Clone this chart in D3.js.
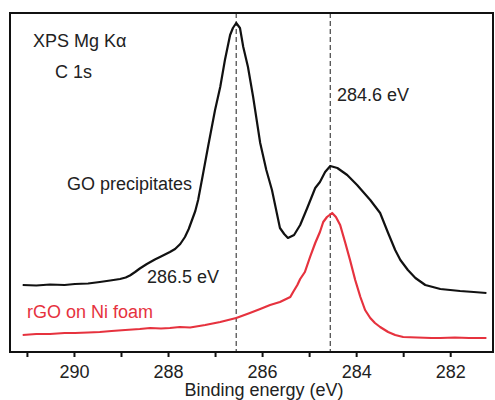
<!DOCTYPE html>
<html>
<head>
<meta charset="utf-8">
<script src="https://cdn.jsdelivr.net/npm/d3@7"></script>
<style>
  body { margin: 0; background: #fff; }
  text { font-family: "Liberation Sans", Arial, sans-serif; }
</style>
</head>
<body>
<div id="svg-area"></div>
<script>
const width = 495;
const height = 400;
const margin = {top: 13, left: 10, bottom: 48, right: 2};

// binding energy (eV) and intensity (a.u.)
const goEnergy = [291.09, 290.8, 290.51, 290.2, 289.98, 289.7, 289.45, 289.23, 289.02, 288.9, 288.81, 288.7, 288.6, 288.45,
  288.28, 288.15, 287.96, 287.85, 287.74, 287.64, 287.56, 287.49, 287.42, 287.36, 287.26, 287.15, 287.0, 286.89, 286.79, 286.68,
  286.62, 286.55, 286.47, 286.4, 286.3, 286.19, 286.04, 285.91, 285.79, 285.62, 285.53, 285.45, 285.32, 285.19,
  285.04, 284.87, 284.77, 284.66, 284.55, 284.4, 284.19, 283.98, 283.7, 283.49, 283.32, 283.17, 283.06, 282.9,
  282.74, 282.53, 282.21, 282.0, 281.79, 281.5, 281.23];
const goIntensity = [67, 66.5, 67.5, 67, 68, 68.5, 70, 71.5, 73, 74.5, 76.5, 80, 83.5, 88,
  92.5, 95.5, 100, 103, 108, 115, 123, 132, 141, 152, 177, 205, 242, 265, 292, 317,
  324, 329, 324, 305, 285, 255, 209, 182, 162, 124, 118, 114, 117, 127,
  144, 164, 170, 180, 186, 184, 177, 167, 152, 139, 119, 102, 92, 82,
  74, 67, 63, 62, 61, 60, 59];

const rgoEnergy = [291.09, 290.8, 290.51, 290.2, 289.98, 289.7, 289.45, 289.2, 288.91, 288.6, 288.38, 288.15, 287.96,
  287.75, 287.53, 287.21, 286.89, 286.55, 286.26, 286.04, 285.83, 285.62, 285.4, 285.34, 285.25, 285.19, 285.09, 284.98,
  284.87, 284.77, 284.7, 284.62, 284.51, 284.43, 284.34, 284.23, 284.13, 284.02, 283.91, 283.81, 283.7, 283.6,
  283.49, 283.32, 283.17, 283.0, 282.7, 282.4, 282.21, 281.9, 281.6, 281.23];
const rgoIntensity = [17, 18, 18, 19, 19, 19.5, 20, 21, 22, 23, 24, 23.5, 24,
  25, 24.5, 27, 30, 34, 39, 43, 47, 50, 55, 60, 67, 73, 80, 95,
  109, 120, 130, 135, 139, 135, 127, 109, 92, 72, 55, 42, 34, 29,
  25, 20, 17, 15, 14.5, 14, 14, 14.5, 14, 14];

const xTicks = [291, 290, 289, 288, 287, 286, 285, 284, 283, 282];
const peakLines = [286.55, 284.55];

const x = d3.scaleLinear()
  .domain([291.36, 281.09])
  .range([margin.left, width - margin.right]);

const y = d3.scaleLinear()
  .domain([0, 339])
  .range([height - margin.bottom, margin.top]);

const svg = d3.select('#svg-area').append('svg')
  .attr('width', width).attr('height', height);

const xAxis = g => g
  .attr('transform', `translate(0, ${height - margin.bottom})`)
  .call(d3.axisBottom(x)
    .tickValues(xTicks)
    .tickSizeInner(5)
    .tickSizeOuter(0)
    .tickPadding(8)
    .tickFormat(d => d % 2 === 0 ? d : ''))
  .call(g => g.select('.domain').remove())
  .call(g => g.selectAll('line').attr('stroke', '#111').attr('stroke-width', 2))
  .call(g => g.selectAll('text').attr('font-size', 18).attr('fill', '#222')
    .style('font-family', '"Liberation Sans", Arial, sans-serif'));

svg.append('g').call(xAxis);

// dashed peak markers
svg.append('g')
  .selectAll('line').data(peakLines).enter().append('line')
  .attr('x1', d => x(d)).attr('x2', d => x(d))
  .attr('y1', margin.top).attr('y2', height - margin.bottom)
  .attr('stroke', '#444')
  .attr('stroke-width', 1.2)
  .attr('stroke-dasharray', '5,3');

const line = d3.line()
  .x(d => x(d[0]))
  .y(d => y(d[1]));

svg.append('path')
  .datum(d3.zip(goEnergy, goIntensity))
  .attr('d', line)
  .attr('fill', 'none')
  .attr('stroke', '#111')
  .attr('stroke-width', 2.2)
  .attr('stroke-linejoin', 'round');

svg.append('path')
  .datum(d3.zip(rgoEnergy, rgoIntensity))
  .attr('d', line)
  .attr('fill', 'none')
  .attr('stroke', '#e6323e')
  .attr('stroke-width', 2.2)
  .attr('stroke-linejoin', 'round');

// frame
svg.append('rect')
  .attr('x', margin.left).attr('y', margin.top)
  .attr('width', width - margin.left - margin.right)
  .attr('height', height - margin.top - margin.bottom)
  .attr('fill', 'none')
  .attr('stroke', '#111')
  .attr('stroke-width', 2);

const labels = [
  {text: 'XPS Mg K\u03b1', x: 33, y: 47, color: '#222'},
  {text: 'C 1s', x: 55, y: 78, color: '#222'},
  {text: '284.6 eV', x: 337, y: 101, color: '#222'},
  {text: 'GO precipitates', x: 67, y: 190, color: '#222'},
  {text: '286.5 eV', x: 147, y: 283, color: '#222'},
  {text: 'rGO on Ni foam', x: 27, y: 318, color: '#e6323e'}
];

svg.append('g')
  .selectAll('text').data(labels).enter().append('text')
  .attr('x', d => d.x)
  .attr('y', d => d.y)
  .attr('font-size', 18)
  .attr('fill', d => d.color)
  .text(d => d.text);

svg.append('text')
  .attr('x', 264)
  .attr('y', 396)
  .attr('text-anchor', 'middle')
  .attr('font-size', 18)
  .attr('fill', '#222')
  .text('Binding energy (eV)');
</script>
</body>
</html>
